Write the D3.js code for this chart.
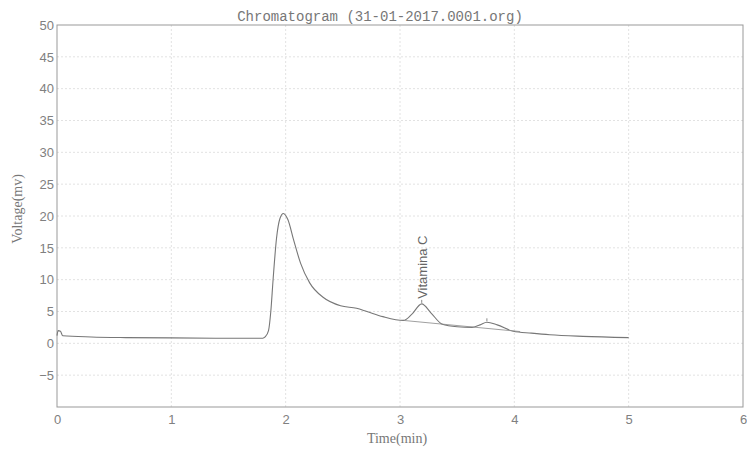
<!DOCTYPE html>
<html>
<head>
<meta charset="utf-8">
<script src="https://cdn.jsdelivr.net/npm/d3@7"></script>
<style>
  body { margin: 0; background: #fff; }
  .tick text { fill: #808080; font-family: "Liberation Sans", Arial, sans-serif; font-size: 13px; }
</style>
</head>
<body>
<div id="chart"></div>
<script>
// signal trace: time (min) and voltage (mv)
var times = [0, 0.01, 0.03, 0.05, 0.3, 0.6, 1.0, 1.5, 1.8, 1.82, 1.85, 1.87, 1.89, 1.92, 1.95, 1.98, 2.02, 2.07, 2.13, 2.21, 2.33,
             2.48, 2.62, 2.71, 2.85, 3.03, 3.1, 3.19, 3.27, 3.37, 3.5, 3.63, 3.7, 3.76, 3.85, 3.99, 4.15, 4.31, 4.6, 5.0];
var volts = [1.2, 2.0, 1.9, 1.2, 1.0, 0.9, 0.85, 0.8, 0.8, 1.0, 2.0, 5.0, 10, 16.5, 19.6, 20.4, 19.4, 16.2, 12.6, 9.5, 7.2,
             5.9, 5.5, 5.0, 4.2, 3.6, 4.5, 6.2, 4.8, 3.0, 2.6, 2.5, 2.9, 3.3, 2.9, 1.9, 1.6, 1.35, 1.1, 0.9];

// integration baseline under the small peaks
var baseTimes = [3.03, 4.05];
var baseVolts = [3.6, 1.85];

var peakTimes = [3.19, 3.76];
var peakVolts = [6.2, 3.3];
var peakLabel = "Vitamina C";

var xTicks = [0, 1, 2, 3, 4, 5, 6];
var yTicks = [-5, 0, 5, 10, 15, 20, 25, 30, 35, 40, 45, 50];

var width = 747, height = 450;
var margin = {top: 25, right: 4, bottom: 43, left: 57};

var x = d3.scaleLinear().domain([0, 6]).range([margin.left, width - margin.right]);
var y = d3.scaleLinear().domain([-10, 50]).range([height - margin.bottom, margin.top]);

var svg = d3.select("#chart").append("svg")
    .attr("width", width)
    .attr("height", height);

// grid
svg.append("g")
    .selectAll("line.h")
    .data(yTicks.filter(function (d) { return d < 50; }))
    .enter().append("line")
    .attr("x1", x(0)).attr("x2", x(6))
    .attr("y1", function (d) { return y(d); })
    .attr("y2", function (d) { return y(d); })
    .attr("stroke", "#e2e2e2")
    .attr("stroke-dasharray", "2,2");

svg.append("g")
    .selectAll("line.v")
    .data(xTicks.filter(function (d) { return d > 0 && d < 6; }))
    .enter().append("line")
    .attr("x1", function (d) { return x(d); })
    .attr("x2", function (d) { return x(d); })
    .attr("y1", y(50)).attr("y2", y(-10))
    .attr("stroke", "#e2e2e2")
    .attr("stroke-dasharray", "2,2");

// frame
svg.append("rect")
    .attr("x", x(0)).attr("y", y(50))
    .attr("width", x(6) - x(0)).attr("height", y(-10) - y(50))
    .attr("fill", "none")
    .attr("stroke", "#999");

var xAxis = svg.append("g")
    .attr("transform", "translate(0," + y(-10) + ")")
    .call(d3.axisBottom(x).tickValues(xTicks).tickFormat(d3.format("d")).tickSize(0).tickPadding(8));
xAxis.select(".domain").remove();

var yAxis = svg.append("g")
    .attr("transform", "translate(" + x(0) + ",0)")
    .call(d3.axisLeft(y).tickValues(yTicks).tickSize(0).tickPadding(3));
yAxis.select(".domain").remove();

// title and axis labels
svg.append("text")
    .attr("x", 380).attr("y", 21)
    .attr("text-anchor", "middle")
    .attr("font-family", "'Liberation Mono', 'Courier New', monospace")
    .attr("font-size", "14px")
    .attr("fill", "#777")
    .text("Chromatogram (31-01-2017.0001.org)");

svg.append("text")
    .attr("x", 397).attr("y", 443)
    .attr("text-anchor", "middle")
    .attr("font-family", "'Liberation Serif', 'Times New Roman', serif")
    .attr("font-size", "14px")
    .attr("fill", "#777")
    .text("Time(min)");

svg.append("text")
    .attr("transform", "translate(22,209)rotate(-90)")
    .attr("text-anchor", "middle")
    .attr("font-family", "'Liberation Serif', 'Times New Roman', serif")
    .attr("font-size", "14px")
    .attr("fill", "#777")
    .text("Voltage(mv)");

// trace
var line = d3.line()
    .x(function (d) { return x(d[0]); })
    .y(function (d) { return y(d[1]); })
    .curve(d3.curveMonotoneX);

svg.append("path")
    .datum(d3.zip(times, volts))
    .attr("d", line)
    .attr("fill", "none")
    .attr("stroke", "#777")
    .attr("stroke-width", 1.1);

svg.append("path")
    .datum(d3.zip(baseTimes, baseVolts))
    .attr("d", d3.line().x(function (d) { return x(d[0]); }).y(function (d) { return y(d[1]); }))
    .attr("fill", "none")
    .attr("stroke", "#888")
    .attr("stroke-width", 0.8);

// apex markers
svg.append("g")
    .selectAll("line")
    .data(d3.zip(peakTimes, peakVolts))
    .enter().append("line")
    .attr("x1", function (d) { return x(d[0]); })
    .attr("x2", function (d) { return x(d[0]); })
    .attr("y1", function (d) { return y(d[1]) - 1; })
    .attr("y2", function (d) { return y(d[1]) - 4; })
    .attr("stroke", "#888");

svg.append("text")
    .attr("transform", "translate(" + (x(peakTimes[0]) + 5) + "," + (y(peakVolts[0]) - 5) + ")rotate(-90)")
    .attr("font-family", "'Liberation Sans', Arial, sans-serif")
    .attr("font-size", "13px")
    .attr("fill", "#666")
    .text(peakLabel);
</script>
</body>
</html>
